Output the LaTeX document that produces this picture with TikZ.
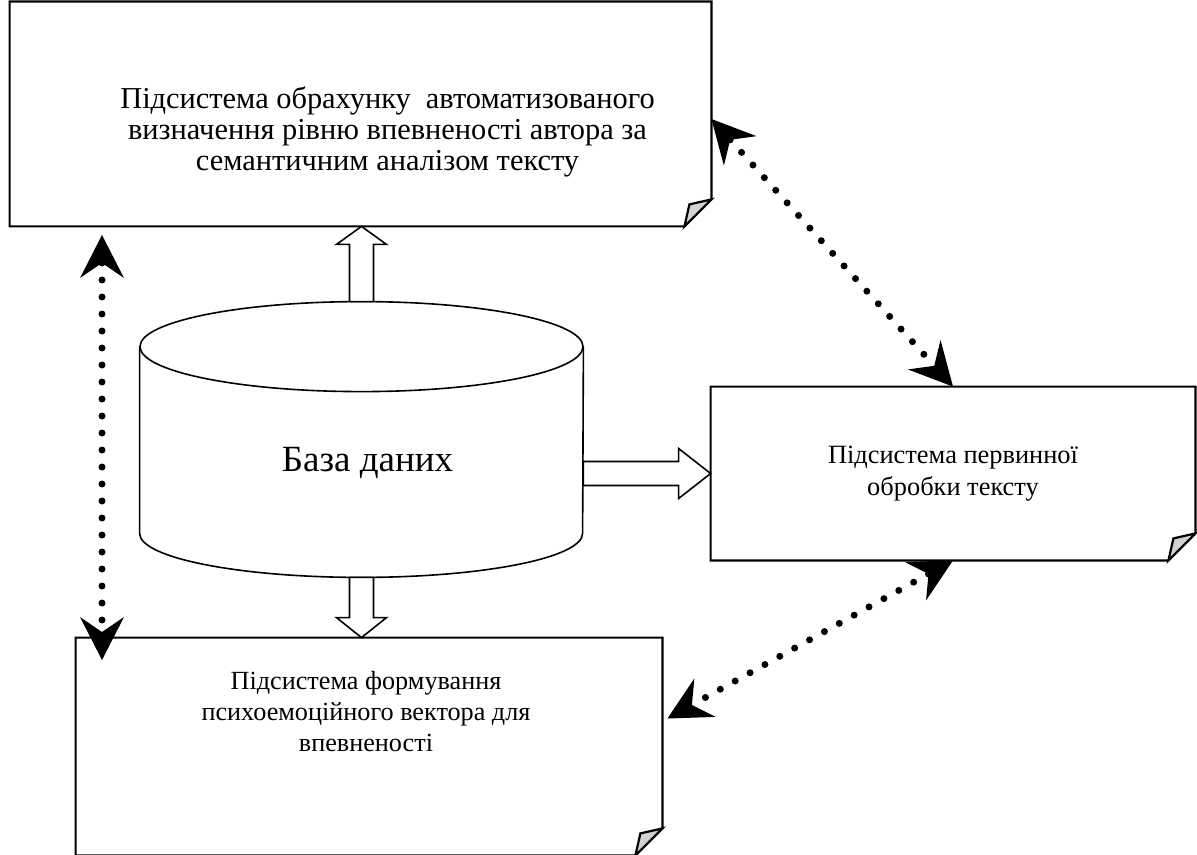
\documentclass[tikz,border=0pt]{standalone}
\usepackage{fontspec}
\setmainfont{Liberation Serif}
\usetikzlibrary{arrows.meta, calc}

% outline of a box with a folded lower right corner
\newcommand{\docborder}[1]{%
  \draw[boxline] (#1.north west) -- (#1.north east) -- ($(#1.south east)+(0,-27)$)
    -- ($(#1.south east)+(-27,0)$) -- (#1.south west) -- cycle;
  \draw[boxline, fill=gray!35] ($(#1.south east)+(0,-27)$) -- ($(#1.south east)+(-22,-22)$)
    -- ($(#1.south east)+(-27,0)$) -- cycle;}

% wide hollow arrow: from, to, head length
\newcommand{\hollowarrow}[3]{%
  \coordinate (ha) at (#1);
  \coordinate (he) at (#2);
  \coordinate (hb) at ($(he)!#3!(ha)$);
  \draw[flowline] ($(ha)!6pt!90:(hb)$) -- ($(hb)!6pt!-90:(ha)$) -- ($(hb)!12.5pt!-90:(ha)$)
    -- (he) -- ($(hb)!12.5pt!90:(ha)$) -- ($(hb)!6pt!90:(ha)$) -- ($(ha)!6pt!-90:(hb)$) -- cycle;}

\begin{document}
\begin{tikzpicture}[x=0.5pt, y=-0.5pt,
    >={Stealth[length=21.5pt, width=22pt, inset=7.5pt, line width=0pt]},
    boxline/.style={line width=1.1pt, line join=miter},
    docbox/.style={inner sep=0pt},
    flowline/.style={line width=0.8pt, fill=white},
    dbline/.style={line width=0.8pt},
    dotline/.style={line width=3.5pt, line cap=round, dash pattern=on 0pt off 8.5pt, <->},
    txt/.style={font=\fontsize{13.1}{15.5}\selectfont, align=center}]
  \useasboundingbox (0,0) rectangle (1197,855);

  % subsystems
  \node[docbox, minimum width=350.5pt, minimum height=112pt,
    label={[txt, font=\fontsize{15.2}{15.5}\selectfont, xshift=13.5pt, yshift=-9pt]center:{Підсистема обрахунку\ \ автоматизованого\\визначення рівню впевненості автора за\\семантичним аналізом тексту}}]
    (calc) at (360.5,114) {};
  \node[docbox, txt, font=\fontsize{13.2}{16}\selectfont, minimum width=242pt, minimum height=86.5pt]
    (prep) at (953,473.5) {Підсистема первинної\\обробки тексту};
  \node[docbox, minimum width=293pt, minimum height=108.5pt,
    label={[txt, xshift=-1.5pt, yshift=17.5pt]center:{Підсистема формування\\психоемоційного вектора для\\впевненості}}]
    (form) at (369,746.5) {};
  \docborder{calc}
  \docborder{prep}
  \docborder{form}

  % database
  \node[docbox, font=\fontsize{18.5}{22}\selectfont, minimum width=221.5pt, minimum height=70.5pt,
    label={[font=\fontsize{18.5}{22}\selectfont, xshift=3pt]center:База даних}]
    (db) at (361.5,462.5) {};
  \draw[dbline] ($(db.north west)+(0,-45)$) -- (db.south west)
    arc[start angle=180, end angle=0, x radius=221.5, y radius=44] -- ($(db.north east)+(0,-45)$);
  \draw[dbline] ($(db.north)+(0,-45)$) ellipse[x radius=221.5, y radius=45];

  % data flows
  \hollowarrow{$(db.north)+(0,-90)$}{db.north |- calc.south}{9pt}
  \hollowarrow{db.east |- prep.west}{prep.west}{16pt}
  \hollowarrow{$(db.south)+(0,44)$}{db.south |- form.north}{10pt}

  % links between subsystems
  \coordinate (lt) at (102,235);
  \coordinate (lb) at (102,660);
  \draw[dotline] (lt) -- (lb);
  \draw[dotline] ($(calc.east)+(0,5)$) -- (prep.north);
  \draw[dotline] (prep.south) -- ($(form.east)+(5,-28)$);
\end{tikzpicture}
\end{document}
